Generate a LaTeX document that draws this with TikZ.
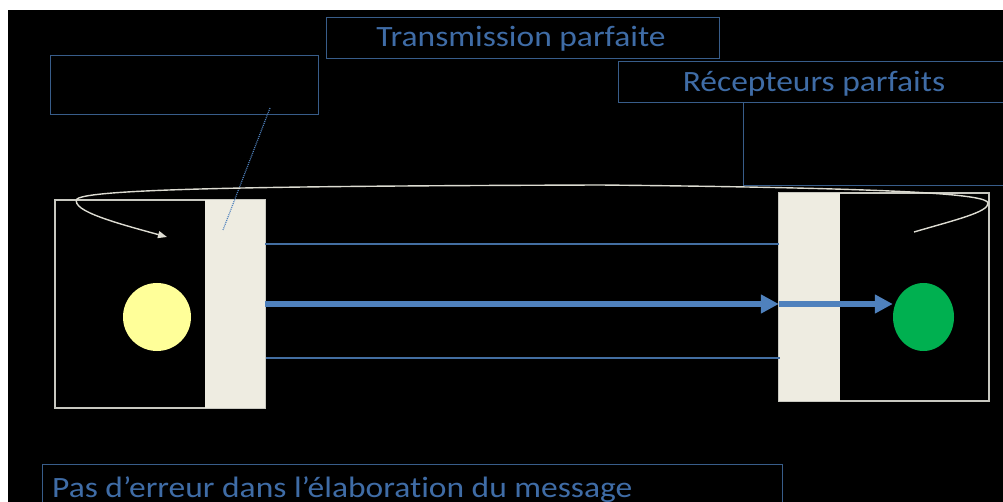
\documentclass[tikz,border=0pt]{standalone}
\usepackage{fontspec}
\setmainfont{Carlito}[Ligatures=NoCommon]
\usetikzlibrary{arrows.meta,shapes.geometric}
\definecolor{txtblue}{HTML}{3F6CA6}
\definecolor{boxblue}{HTML}{385D8A}
\definecolor{arrblue}{HTML}{4F81BD}
\definecolor{beige}{HTML}{EEECE1}
\definecolor{ylw}{HTML}{FFFF99}
\definecolor{grn}{HTML}{00B050}
\definecolor{outl}{HTML}{C8C8C0}
\tikzset{
  lbltxt/.style={inner sep=0pt, text=txtblue, font=\fontsize{29.5}{32}\selectfont},
  emptybox/.style={draw=boxblue, line width=0.9pt, inner sep=0pt},
  bar/.style={fill=beige, draw=none, inner sep=0pt},
  thinline/.style={draw=arrblue!85!black, line width=1.1pt},
  thickarrow/.style={draw=arrblue, line width=6pt, -{Triangle[length=18pt,width=18pt]}},
  loopline/.style={draw=beige!85!gray, line width=1.4pt, -{Triangle[length=9pt,width=7pt]}},
  frame/.style={draw=outl, line width=1.2pt},
}
\newcommand{\hs}[1]{\scalebox{1.135}[1]{#1}}
\begin{document}
\begin{tikzpicture}[x=1pt,y=-1pt]
\useasboundingbox (0,0) rectangle (1003,502);
\fill[white] (0,0) rectangle (1003,502);
\fill[black] (8,10) rectangle (1003,502);
\clip (0,0) rectangle (1003,502);

% top labels
\node[emptybox, minimum width=393pt, minimum height=41pt] (trans) at (522.5,37.5) {};
\node[lbltxt, anchor=base] (transtxt) at (521,47) {\hs{Transmission parfaite}};
\node[emptybox, minimum width=268pt, minimum height=59pt] (tlbox) at (184,84.5) {};
\node[emptybox, minimum width=400pt, minimum height=41pt, anchor=west] (recep) at (618,81.5) {};
\node[lbltxt, anchor=base] (receptxt) at (814,92) {\hs{Récepteurs parfaits}};
\node[emptybox, minimum width=280pt, minimum height=83pt, anchor=north west] (trbox) at (743,102) {};

% left emitter
\node[frame, minimum width=210pt, minimum height=208pt, inner sep=0pt] (lframe) at (160,304) {};
\node[bar, minimum width=60pt, minimum height=208pt] (lbar) at (235,304) {};
\node[fill=ylw, circle, minimum size=68pt, inner sep=0pt] (src) at (157,317) {};

% right receiver
\node[frame, minimum width=210pt, minimum height=208pt, inner sep=0pt] (rframe) at (884,297) {};
\node[bar, minimum width=61pt, minimum height=208pt] (rbar) at (809.5,297) {};
\node[fill=grn, ellipse, minimum width=61pt, minimum height=68pt, inner sep=0pt] (dst) at (923.5,317) {};

% transmission lines
\coordinate (t1) at (265,244);
\coordinate (t2) at (779,244);
\coordinate (b1) at (266,358);
\coordinate (b2) at (780,358);
\draw[thinline] (t1) -- (t2);
\draw[thinline] (b1) -- (b2);
\draw[thickarrow] (lbar.east |- 0,304) -- (rbar.west |- 0,304);
\draw[thickarrow] (rbar.west |- 0,304) -- (dst.west |- 0,304);

% dotted pointer
\coordinate (dps) at (270,108);
\coordinate (dp) at (223,230);
\draw[arrblue, line width=1.2pt, dash pattern=on 1pt off 1pt] (dps) -- (dp);

% big loop
\coordinate (ls) at (914,232);
\coordinate (le) at (167,237);
\draw[loopline] (ls) .. controls (955,220) and (989,212) .. (988,203)
  .. controls (987,194) and (900,188) .. (600,185)
  .. controls (300,186) and (90,188) .. (77,199)
  .. controls (70,211) and (120,224) .. (le);

% bottom label
\node[emptybox, minimum width=740pt, minimum height=60pt, anchor=north west] (botbox) at (42,464) {};
\node[lbltxt, anchor=base west] (bottxt) at (52,497) {\hs{Pas d’erreur dans l’élaboration du message}};
\end{tikzpicture}
\end{document}
